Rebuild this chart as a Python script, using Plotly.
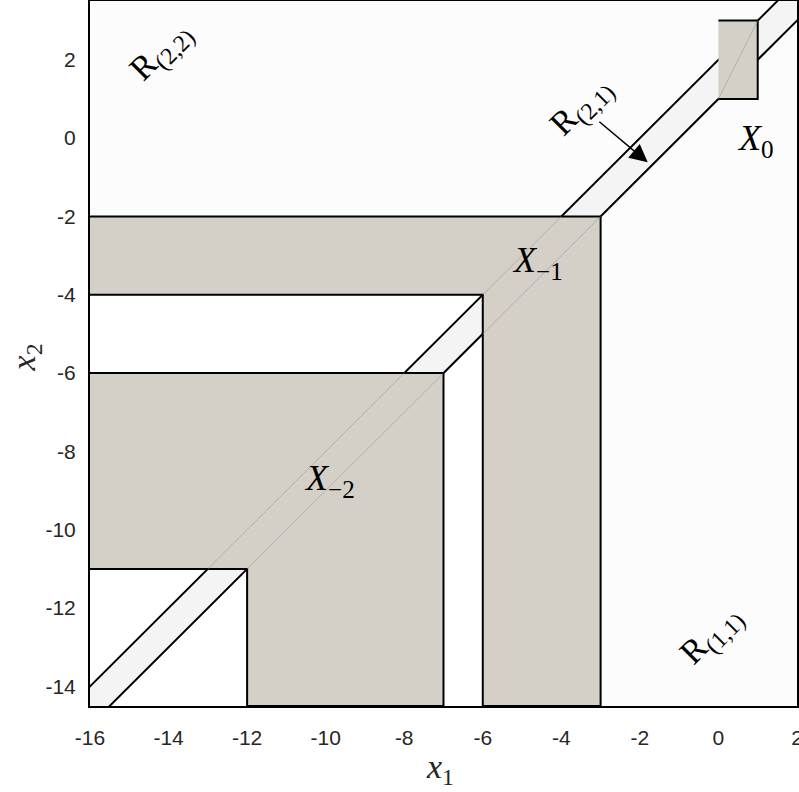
import plotly.graph_objects as go

# set outlines in (x1, x2)
X0_X = [0, 1, 1, 0]
X0_Y = [1, 1, 3, 3]
XM1_X = [-16, -3, -3, -6, -6, -16]
XM1_Y = [-2, -2, -14.5, -14.5, -4, -4]
XM2_X = [-16, -7, -7, -12, -12, -16]
XM2_Y = [-6, -6, -14.5, -14.5, -11, -11]
POCKET_X = [-16, -6, -6, -16]          # white pocket under the X_{-1} corner
POCKET_Y = [-4, -4, -14.5, -14.5]
# R(2,1) strip between x2 = x1 + 1 and x2 = x1 + 2
BAND_X = [-17, 3, 3, -17]
BAND_Y = [-16, 4, 5, -15]
# strip edges where they run under the X sets (drawn faint)
SEAM_X = [-13, -8, None, -12, -7, None, -6, -4, None, -6, -3, None, 0, 1]
SEAM_Y = [-11, -6, None, -11, -6, None, -4, -2, None, -5, -2, None, 1, 3]

X_TICKS = [-16, -14, -12, -10, -8, -6, -4, -2, 0, 2]
Y_TICKS = [-14, -12, -10, -8, -6, -4, -2, 0, 2]

# text, x1, x2, angle, size
REGION_LABELS = [
    ("R<sub>(2,2)</sub>", -14.2, 2.2, -45, 34),
    ("R<sub>(2,1)</sub>", -3.5, 0.8, -45, 34),
    ("R<sub>(1,1)</sub>", -0.2, -12.7, -45, 34),
    ("<i>X</i><sub>−1</sub>", -4.6, -3.17, 0, 36),
    ("<i>X</i><sub>−2</sub>", -9.9, -8.73, 0, 36),
    ("<i>X</i><sub>0</sub>", 0.95, -0.06, 0, 36),
]
ARROW_FROM = (-3.07, 0.45)
ARROW_TO = (-1.8, -0.62)

GRAY = "#d4d0c8"
STRIP = "#f4f4f4"
BG = "#fcfcfc"
SERIF = "Liberation Serif, Times New Roman, serif"


def poly(xs, ys, fill, width=2):
    return go.Scatter(x=xs, y=ys, fill="toself", fillcolor=fill, mode="lines",
                      line=dict(color="black", width=width), hoverinfo="skip",
                      showlegend=False)


def main():
    fig = go.Figure()
    fig.add_trace(go.Scatter(x=POCKET_X, y=POCKET_Y, fill="toself", fillcolor="white",
                             mode="none", hoverinfo="skip", showlegend=False))
    fig.add_trace(poly(BAND_X, BAND_Y, STRIP, 2))
    fig.add_trace(poly(XM1_X, XM1_Y, GRAY))
    fig.add_trace(poly(XM2_X, XM2_Y, GRAY))
    fig.add_trace(poly(X0_X, X0_Y, GRAY))
    fig.add_trace(go.Scatter(x=SEAM_X, y=SEAM_Y, mode="lines",
                             line=dict(color="rgba(150,150,150,0.7)", width=0.8),
                             hoverinfo="skip", showlegend=False, connectgaps=False))

    ann = []
    for txt, x, y, ang, sz in REGION_LABELS:
        ann.append(dict(x=x, y=y, xref="x", yref="y", text=txt, showarrow=False,
                        textangle=ang, font=dict(family=SERIF, size=sz, color="black")))
    ann.append(dict(x=ARROW_TO[0], y=ARROW_TO[1], ax=ARROW_FROM[0], ay=ARROW_FROM[1],
                    xref="x", yref="y", axref="x", ayref="y", text="", showarrow=True,
                    arrowhead=2, arrowsize=2.4, arrowwidth=1.5, arrowcolor="black"))
    # axis titles
    ann.append(dict(x=0.495, y=-0.09, xref="paper", yref="paper", yanchor="middle",
                    text="<i>x</i><sub>1</sub>", showarrow=False,
                    font=dict(family=SERIF, size=34, color="#262626")))
    ann.append(dict(x=-0.09, y=0.495, xref="paper", yref="paper", xanchor="center",
                    text="<i>x</i><sub>2</sub>", showarrow=False, textangle=-90,
                    font=dict(family=SERIF, size=34, color="#262626")))

    ax = dict(showgrid=False, zeroline=False, showline=True, mirror=True,
              linecolor="black", linewidth=2, ticks="", automargin=False,
              ticklabeloverflow="allow",
              tickfont=dict(family="Liberation Sans, Arial, sans-serif", size=21,
                            color="#262626"))
    fig.update_layout(
        width=799, height=792,
        margin=dict(l=90, r=2, t=1, b=86),
        paper_bgcolor="white", plot_bgcolor=BG,
        xaxis=dict(range=[-16, 2], tickvals=X_TICKS, ticktext=[str(v) for v in X_TICKS],
                   ticklabelstandoff=12, **ax),
        yaxis=dict(range=[-14.5, 3.5], tickvals=Y_TICKS, ticktext=[str(v) for v in Y_TICKS],
                   ticklabelstandoff=8, **ax),
        annotations=ann,
        showlegend=False,
    )
    # drop the browser's default 8px body margin so the figure sits at the page corner
    fig.write_html("out.html", config=dict(displayModeBar=False),
                   post_script="document.body.style.margin='0';")


if __name__ == "__main__":
    main()
